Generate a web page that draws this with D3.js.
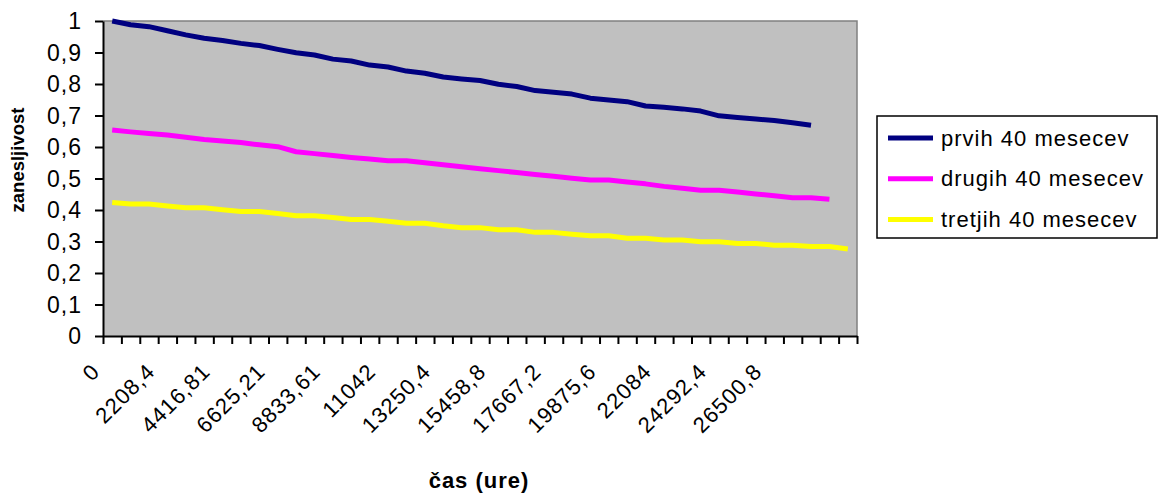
<!DOCTYPE html>
<html>
<head>
<meta charset="utf-8">
<script src="https://cdn.jsdelivr.net/npm/d3@7"></script>
<style>
    body { margin: 0; background: #fff; }
    svg text { font-family: Arial, "Liberation Sans", sans-serif; fill: #000; }
</style>
</head>
<body>
<div id="chart"></div>
<script>
// category axis: 41 categories, label shown on every 3rd one
const categoryCount = 41;
const tickLabels = ['0', '2208,4', '4416,81', '6625,21', '8833,61', '11042', '13250,4',
    '15458,8', '17667,2', '19875,6', '22084', '24292,4', '26500,8'];
const labelEvery = 3;

const seriesNames = ['prvih 40 mesecev', 'drugih 40 mesecev', 'tretjih 40 mesecev'];
const seriesColors = ['#000080', '#ff00ff', '#ffff00'];

const prvih = [1.000, 0.988, 0.982, 0.969, 0.956, 0.945, 0.938, 0.929, 0.922, 0.910,
    0.899, 0.892, 0.879, 0.873, 0.860, 0.854, 0.841, 0.834, 0.822, 0.816,
    0.811, 0.799, 0.792, 0.779, 0.774, 0.768, 0.755, 0.749, 0.744, 0.730,
    0.726, 0.721, 0.714, 0.699, 0.694, 0.689, 0.684, 0.677, 0.669];
const drugih = [0.654, 0.648, 0.643, 0.638, 0.631, 0.624, 0.619, 0.614, 0.607, 0.601,
    0.585, 0.579, 0.573, 0.567, 0.562, 0.556, 0.556, 0.550, 0.544, 0.537,
    0.531, 0.525, 0.519, 0.513, 0.507, 0.501, 0.495, 0.495, 0.489, 0.483,
    0.475, 0.469, 0.463, 0.463, 0.457, 0.451, 0.445, 0.439, 0.439, 0.434];
const tretjih = [0.424, 0.419, 0.419, 0.413, 0.407, 0.407, 0.401, 0.395, 0.395, 0.389,
    0.382, 0.382, 0.376, 0.370, 0.370, 0.364, 0.358, 0.358, 0.350, 0.344,
    0.344, 0.337, 0.337, 0.329, 0.329, 0.323, 0.318, 0.318, 0.310, 0.310,
    0.305, 0.305, 0.299, 0.299, 0.294, 0.294, 0.288, 0.288, 0.284, 0.284, 0.276];

const yTicks = [0, 0.1, 0.2, 0.3, 0.4, 0.5, 0.6, 0.7, 0.8, 0.9, 1];

const width = 1159, height = 497;
const margin = { top: 21, right: 302, bottom: 161, left: 103 };
const plotW = width - margin.left - margin.right;
const plotH = height - margin.top - margin.bottom;

const svg = d3.select('#chart').append('svg')
    .attr('width', width)
    .attr('height', height);

const chart = svg.append('g')
    .attr('transform', `translate(${margin.left}, ${margin.top})`);

// Scales
const x = d3.scaleBand()
    .domain(d3.range(categoryCount))
    .range([0, plotW])
    .padding(0);
const xTick = d3.scaleLinear()
    .domain([0, categoryCount])
    .range([0, plotW]);
const y = d3.scaleLinear()
    .domain([0, 1])
    .range([plotH, 0]);
const cx = i => x(i) + x.bandwidth() / 2;

// Plot area
chart.append('rect')
    .attr('width', plotW)
    .attr('height', plotH)
    .attr('fill', '#c0c0c0');
chart.append('path')
    .attr('d', `M0,0H${plotW}V${plotH}`)
    .attr('fill', 'none')
    .attr('stroke', '#808080')
    .attr('stroke-width', 1.5);

// Lines
const line = d3.line()
    .x((d, i) => cx(i))
    .y(d => y(d));

[prvih, drugih, tretjih].forEach((s, k) => {
    chart.append('path')
        .datum(s)
        .attr('d', line)
        .attr('fill', 'none')
        .attr('stroke', seriesColors[k])
        .attr('stroke-width', 5)
        .attr('stroke-linejoin', 'round');
});

// Y axis
const yAxis = d3.axisLeft(y)
    .tickValues(yTicks)
    .tickSize(8)
    .tickSizeOuter(0)
    .tickPadding(13)
    .tickFormat(d => d3.format('.1~f')(d).replace('.', ','));
const gy = chart.append('g').call(yAxis);
gy.select('.domain').attr('stroke', '#000').attr('stroke-width', 2);
gy.selectAll('.tick line').attr('stroke', '#000').attr('stroke-width', 2);
gy.selectAll('.tick text')
    .style('font-size', '23px')
    .style('letter-spacing', '1px')
    .attr('dy', '0.34em');

// X axis (ticks between categories)
const xAxis = d3.axisBottom(xTick)
    .tickValues(d3.range(categoryCount + 1))
    .tickSize(8)
    .tickSizeOuter(0)
    .tickFormat('');
const gx = chart.append('g')
    .attr('transform', `translate(0, ${plotH})`)
    .call(xAxis);
gx.select('.domain').attr('stroke', '#000').attr('stroke-width', 2);
gx.selectAll('.tick line').attr('stroke', '#000').attr('stroke-width', 2);

chart.append('g')
    .selectAll('text')
    .data(tickLabels)
    .join('text')
    .attr('transform', (d, i) => `translate(${cx(i * labelEvery) - 11}, ${plotH + 37}) rotate(-45)`)
    .attr('text-anchor', 'end')
    .style('font-size', '22px')
    .style('letter-spacing', '1px')
    .text(d => d);

// Axis titles
svg.append('text')
    .attr('transform', `translate(24, 160) rotate(-90)`)
    .attr('text-anchor', 'middle')
    .style('font-size', '18.5px')
    .style('font-weight', 'bold')
    .text('zanesljivost');

svg.append('text')
    .attr('x', 479)
    .attr('y', 488)
    .attr('text-anchor', 'middle')
    .style('font-size', '22px')
    .style('font-weight', 'bold')
    .style('letter-spacing', '1px')
    .text('čas (ure)');

// Legend
const legend = svg.append('g')
    .attr('transform', 'translate(877, 116)');
legend.append('rect')
    .attr('width', 280)
    .attr('height', 122)
    .attr('fill', '#fff')
    .attr('stroke', '#000')
    .attr('stroke-width', 1.5);

const items = legend.selectAll('g.item')
    .data(seriesNames)
    .join('g')
    .attr('class', 'item')
    .attr('transform', (d, i) => `translate(0, ${22 + i * 40.7})`);
items.append('line')
    .attr('x1', 11).attr('x2', 56)
    .attr('stroke', (d, i) => seriesColors[i])
    .attr('stroke-width', 5);
items.append('text')
    .attr('x', 64)
    .attr('dy', '0.35em')
    .style('font-size', '22px')
    .style('letter-spacing', '1px')
    .text(d => d);
</script>
</body>
</html>
